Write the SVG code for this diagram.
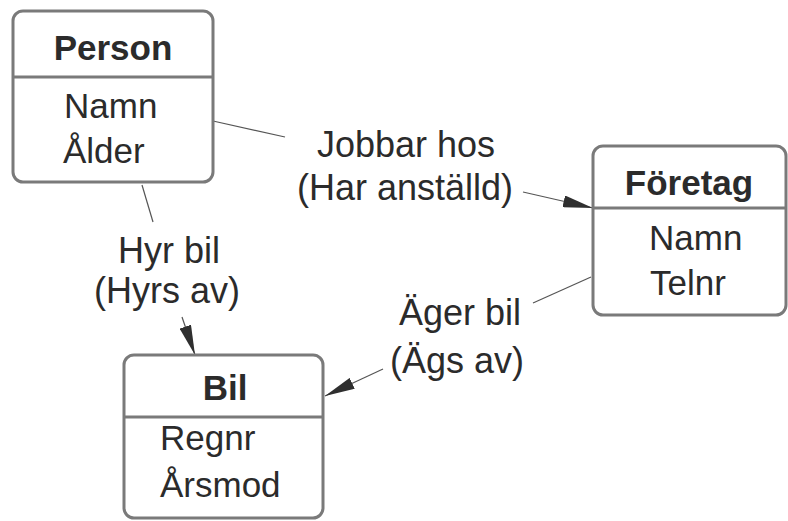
<svg xmlns="http://www.w3.org/2000/svg" width="788" height="521" viewBox="0 0 788 521">
  <style>
    .box { fill: #ffffff; stroke: #7a7a7a; stroke-width: 3; }
    .div { stroke: #7a7a7a; stroke-width: 3; }
    .title { font-family: "Liberation Sans", Arial, sans-serif; font-size: 35px; font-weight: bold; fill: #2b2b2b; text-anchor: middle; }
    .attr { font-family: "Liberation Sans", Arial, sans-serif; font-size: 35px; fill: #2b2b2b; }
    .lbl { font-family: "Liberation Sans", Arial, sans-serif; font-size: 36px; fill: #2b2b2b; text-anchor: middle; }
    .conn { stroke: #555555; stroke-width: 1.2; fill: none; }
  </style>
  <defs>
    <marker id="arrow" markerUnits="userSpaceOnUse" markerWidth="30" markerHeight="12" refX="30" refY="6" orient="auto">
      <path d="M0,0 L30,6 L0,12 z" fill="#2f2f2f"/>
    </marker>
  </defs>
  <rect width="788" height="521" fill="#ffffff"/>

  <!-- relationships -->
  <g id="connectors">
    <g id="jobbar-hos">
      <line class="conn" x1="213" y1="121" x2="285" y2="137"/>
      <line class="conn" x1="523" y1="192" x2="593" y2="208" marker-end="url(#arrow)"/>
      <text class="lbl" x="406" y="157">Jobbar hos</text>
      <text class="lbl" x="405" y="200">(Har anställd)</text>
    </g>
    <g id="hyr-bil">
      <line class="conn" x1="142" y1="185" x2="153" y2="222"/>
      <line class="conn" x1="182" y1="317" x2="195" y2="355" marker-end="url(#arrow)"/>
      <text class="lbl" x="169" y="263">Hyr bil</text>
      <text class="lbl" x="167" y="303">(Hyrs av)</text>
    </g>
    <g id="ager-bil">
      <line class="conn" x1="591" y1="277" x2="533" y2="303"/>
      <line class="conn" x1="383" y1="369" x2="325" y2="396" marker-end="url(#arrow)"/>
      <text class="lbl" x="460" y="325">Äger bil</text>
      <text class="lbl" x="457" y="373">(Ägs av)</text>
    </g>
  </g>

  <!-- entities -->
  <g id="person">
    <rect class="box" x="13" y="11" width="200" height="171" rx="10"/>
    <line class="div" x1="13" y1="77" x2="213" y2="77"/>
    <text class="title" x="113" y="60">Person</text>
    <text class="attr" x="64" y="118">Namn</text>
    <text class="attr" x="63" y="163">Ålder</text>
  </g>
  <g id="foretag">
    <rect class="box" x="593" y="146" width="193" height="169" rx="10"/>
    <line class="div" x1="593" y1="208" x2="786" y2="208"/>
    <text class="title" x="689" y="195">Företag</text>
    <text class="attr" x="649" y="250">Namn</text>
    <text class="attr" x="650" y="295">Telnr</text>
  </g>
  <g id="bil">
    <rect class="box" x="124" y="355" width="199" height="163" rx="10"/>
    <line class="div" x1="124" y1="417" x2="323" y2="417"/>
    <text class="title" x="225" y="400">Bil</text>
    <text class="attr" x="160" y="450">Regnr</text>
    <text class="attr" x="160" y="497">Årsmod</text>
  </g>
</svg>
